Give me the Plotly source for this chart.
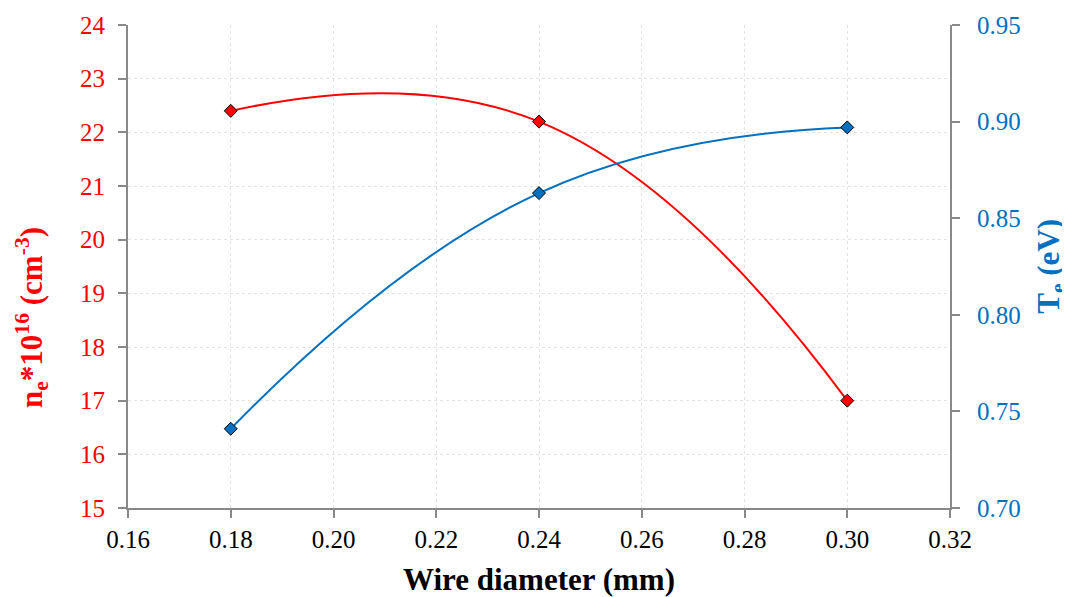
import plotly.graph_objects as go

wire_diameter = [0.18, 0.24, 0.30]
ne_values = [22.4, 22.2, 17.0]
te_values = [0.741, 0.863, 0.897]

RED = "#FF0000"
BLUE = "#0070C0"
AXIS = "#898989"
GRID = "#E3E3E3"
FONT = "Liberation Serif"

fig = go.Figure()
fig.add_trace(go.Scatter(
    x=wire_diameter, y=ne_values, mode="lines+markers",
    line=dict(color=RED, width=2, shape="spline", smoothing=1.3),
    marker=dict(symbol="diamond", size=10, color=RED, line=dict(color="black", width=1)),
    yaxis="y", showlegend=False))
fig.add_trace(go.Scatter(
    x=wire_diameter, y=te_values, mode="lines+markers",
    line=dict(color=BLUE, width=2, shape="spline", smoothing=1.3),
    marker=dict(symbol="diamond", size=10, color=BLUE, line=dict(color="black", width=1)),
    yaxis="y2", showlegend=False))

fig.update_layout(
    width=1062, height=589,
    margin=dict(l=120, r=120, t=17, b=89),
    paper_bgcolor="white", plot_bgcolor="white",
    font=dict(family=FONT, size=25, color="black"),
    xaxis=dict(
        range=[0.16, 0.32], dtick=0.02, tickformat=".2f",
        showline=True, linecolor=AXIS, linewidth=2,
        ticks="outside", ticklen=8, tickcolor=AXIS, tickwidth=2,
        showgrid=True, gridcolor=GRID, griddash="dot", gridwidth=1,
        zeroline=False, automargin=False,
        title=dict(text="<b>Wire diameter (mm)</b>", font=dict(family=FONT, size=31, color="black"), standoff=16),
        tickfont=dict(family=FONT, size=25, color="black"),
    ),
    yaxis=dict(
        range=[15, 24], dtick=1,
        showline=True, linecolor=AXIS, linewidth=2,
        ticks="outside", ticklen=8, tickcolor=AXIS, tickwidth=2,
        ticklabelstandoff=8,
        showgrid=True, gridcolor=GRID, griddash="dot", gridwidth=1,
        zeroline=False, automargin=False,
        tickfont=dict(family=FONT, size=25, color=RED),
    ),
    yaxis2=dict(
        range=[0.70, 0.95], dtick=0.05, tickformat=".2f",
        overlaying="y", side="right",
        showline=True, linecolor=AXIS, linewidth=2,
        ticks="outside", ticklen=8, tickcolor=AXIS, tickwidth=2,
        ticklabelstandoff=12,
        showgrid=False, zeroline=False, automargin=False,
        tickfont=dict(family=FONT, size=25, color=BLUE),
    ),
    annotations=[
        dict(text="<b>n<sub>e</sub>*10<sup>16</sup> (cm<sup>-3</sup>)</b>",
             xref="paper", yref="paper", x=-0.117, y=0.395,
             xanchor="center", yanchor="middle", textangle=-90, showarrow=False,
             font=dict(family=FONT, size=31, color=RED)),
        dict(text="<b>T<sub>e</sub> (eV)</b>",
             xref="paper", yref="paper", x=1.122, y=0.5,
             xanchor="center", yanchor="middle", textangle=-90, showarrow=False,
             font=dict(family=FONT, size=31, color=BLUE)),
    ],
)

fig.write_html("out.html")
